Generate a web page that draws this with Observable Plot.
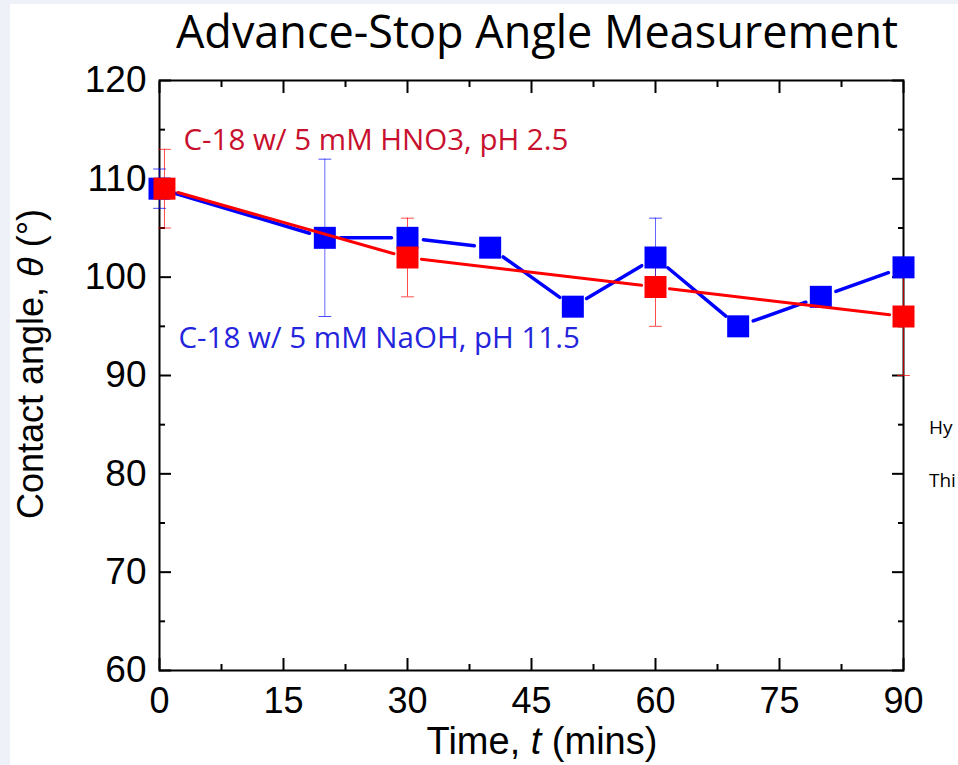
<!DOCTYPE html>
<html><head><meta charset="utf-8">
<script src="https://cdn.jsdelivr.net/npm/d3@7"></script>
<script src="https://cdn.jsdelivr.net/npm/@observablehq/plot@0.6"></script>
<style>
html,body{margin:0;padding:0;background:#eef2f8;width:958px;height:765px;overflow:hidden;}
#page{position:absolute;left:10px;top:4px;width:948px;height:761px;background:#fff;overflow:hidden;}
#title{position:absolute;left:117px;top:0px;width:840px;text-align:center;font-family:"Open Sans";font-size:45px;line-height:normal;color:#000;white-space:nowrap;}
#chart{position:absolute;left:0;top:52px;}
.side{position:absolute;left:919px;font-family:"Open Sans";font-size:19px;line-height:normal;color:#000;white-space:nowrap;}
</style></head>
<body>
<div id="page">
  <div id="chart"></div>
  <div class="side" style="top:410px">Hy</div>
  <div class="side" style="top:463px">Thi</div>
</div>
<div id="title">Advance-Stop Angle Measurement</div>
<script>
// Blue series: C-18 w/ 5 mM NaOH, pH 11.5
const blueTime  = [0, 20, 30, 40, 50, 60, 70, 80, 90];
const blueAngle = [109, 104, 104, 103, 97, 102, 95, 98, 101];
const blueErrTime = [0, 20, 60];
const blueErrLo   = [107, 96, 98];
const blueErrHi   = [111, 112, 106];

// Red series: C-18 w/ 5 mM HNO3, pH 2.5
const redTime  = [0.6, 30, 60, 90];
const redAngle = [109, 102, 99, 96];
const redErrLo = [105, 98, 95, 90];
const redErrHi = [113, 106, 103, 102];

const xTicks = [0, 15, 30, 45, 60, 75, 90];
const xMinor = [7.5, 22.5, 37.5, 52.5, 67.5, 82.5];
const yTicks = [60, 70, 80, 90, 100, 110, 120];
const yMinor = [65, 75, 85, 95, 105, 115];

const annotations = [
  {text: "C-18 w/ 5 mM HNO3, pH 2.5", t: 2.9, v: 112.9, series: "red"},
  {text: "C-18 w/ 5 mM NaOH, pH 11.5", t: 2.3, v: 92.75, series: "blue"}
];

const blue = blueTime.map((t, i) => ({t, v: blueAngle[i]}));
const red = redTime.map((t, i) => ({t, v: redAngle[i]}));
const blueErr = blueErrTime.map((t, i) => ({t, lo: blueErrLo[i], hi: blueErrHi[i]}));
const redErr = redTime.map((t, i) => ({t, lo: redErrLo[i], hi: redErrHi[i]}));
const segs = pts => d3.pairs(pts).map(([a, b]) => ({x1: a.t, y1: a.v, x2: b.t, y2: b.v}));

const capShape = {draw(ctx, l) { ctx.moveTo(0, 0); ctx.lineTo(0, -l); }};
const caps = (data, key, color) => Plot.vector(data, {
  x: "t", y: key, rotate: 90, length: 12, anchor: "middle", shape: capShape,
  stroke: color, strokeWidth: 1, strokeOpacity: 0.7
});
const sq = 22 / Math.sqrt(Math.PI);

const chart = Plot.plot({
  width: 948, height: 709,
  marginLeft: 149, marginRight: 55, marginTop: 24, marginBottom: 95,
  style: {fontFamily: "Liberation Sans", background: "transparent"},
  x: {domain: [0, 90]},
  y: {domain: [60, 120]},
  marks: [
    Plot.frame({stroke: "#000", strokeWidth: 2}),
    Plot.axisX({ticks: xTicks, tickSize: 0, tickPadding: 17, fontSize: 36, label: null, fill: "#000"}),
    Plot.axisY({ticks: yTicks, tickSize: 0, tickPadding: 13, fontSize: 37, label: null, fill: "#000"}),
    Plot.axisX({ticks: xTicks, tickSize: -12, fill: "none", label: null, strokeWidth: 2}),
    Plot.axisX({ticks: xMinor, tickSize: -6, fill: "none", label: null, strokeWidth: 2}),
    Plot.axisX({anchor: "top", ticks: xTicks, tickSize: -12, fill: "none", label: null, strokeWidth: 2}),
    Plot.axisX({anchor: "top", ticks: xMinor, tickSize: -6, fill: "none", label: null, strokeWidth: 2}),
    Plot.axisY({ticks: yTicks, tickSize: -12, fill: "none", label: null, strokeWidth: 2}),
    Plot.axisY({ticks: yMinor, tickSize: -6, fill: "none", label: null, strokeWidth: 2}),
    Plot.axisY({anchor: "right", ticks: yTicks, tickSize: -12, fill: "none", label: null, strokeWidth: 2}),
    Plot.axisY({anchor: "right", ticks: yMinor, tickSize: -6, fill: "none", label: null, strokeWidth: 2}),
    // error bars
    Plot.ruleX(redErr, {x: "t", y1: "lo", y2: "hi", stroke: "#ff0000", strokeWidth: 1, strokeOpacity: 0.7}),
    caps(redErr, "lo", "#ff0000"), caps(redErr, "hi", "#ff0000"),
    Plot.ruleX(blueErr, {x: "t", y1: "lo", y2: "hi", stroke: "#0000ff", strokeWidth: 1, strokeOpacity: 0.6}),
    caps(blueErr, "lo", "#0000ff"), caps(blueErr, "hi", "#0000ff"),
    // connecting lines
    Plot.arrow(segs(blue), {x1: "x1", y1: "y1", x2: "x2", y2: "y2", stroke: "#0000ff", strokeWidth: 3.5, headLength: 0, inset: 16}),
    Plot.dot(blue, {x: "t", y: "v", symbol: "square", r: sq, fill: "#0000ff", stroke: "none"}),
    Plot.arrow(segs(red), {x1: "x1", y1: "y1", x2: "x2", y2: "y2", stroke: "#ff0000", strokeWidth: 3, headLength: 0, inset: 14}),
    Plot.dot(red, {x: "t", y: "v", symbol: "square", r: sq, fill: "#ff0000", stroke: "none"}),
    // annotations
    Plot.text(annotations, {x: "t", y: "v", text: "text", textAnchor: "start", lineAnchor: "bottom",
      fontFamily: "Open Sans", fontSize: 29.5, fill: d => d.series === "red" ? "#c8102e" : "#2424dc"})
  ]
});

const svg = d3.select(chart);
svg.append("text")
  .attr("transform", "translate(532,698)")
  .attr("text-anchor", "middle")
  .style("font-family", "Liberation Sans").style("font-size", "38px").style("fill", "#000")
  .call(t => {
    t.append("tspan").text("Time, ");
    t.append("tspan").style("font-style", "italic").text("t");
    t.append("tspan").text(" (mins)");
  });
svg.append("text")
  .attr("transform", "translate(33,308) rotate(-90)")
  .attr("text-anchor", "middle")
  .style("font-family", "Liberation Sans").style("font-size", "36px").style("fill", "#000")
  .call(t => {
    t.append("tspan").text("Contact angle, ");
    t.append("tspan").style("font-style", "italic").text("θ");
    t.append("tspan").text(" (°)");
  });
document.getElementById("chart").appendChild(chart);
</script>
</body></html>
